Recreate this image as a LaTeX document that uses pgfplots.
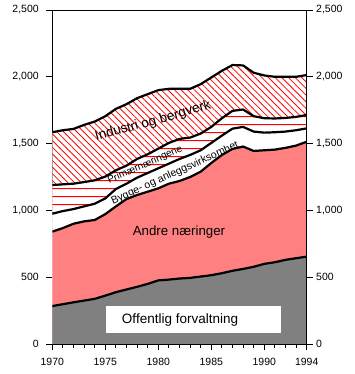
\documentclass[border=0pt]{standalone}
\usepackage{fontspec}
\setmainfont{Liberation Sans}
\usepackage{pgfplots}
\usepackage{pgfplotstable}
\pgfplotsset{compat=1.18}
\usetikzlibrary{patterns,patterns.meta}
\definecolor{andre}{RGB}{255,128,128}
\definecolor{offg}{RGB}{128,128,128}
\pgfdeclarepatternformonly{hstripes}{\pgfpointorigin}{\pgfqpoint{10pt}{7.6pt}}{\pgfqpoint{10pt}{7.6pt}}{%
  \pgfpathrectangle{\pgfqpoint{-1pt}{3pt}}{\pgfqpoint{12pt}{1pt}}\pgfusepath{fill}}
\pgfplotstableread{
year off andre bygge prim ind
1970 284 841 975 1190 1585
1971 298 868 995 1195 1600
1972 312 900 1010 1200 1610
1973 325 918 1030 1212 1640
1974 338 928 1050 1225 1665
1975 362 972 1090 1253 1705
1976 388 1030 1160 1300 1760
1977 408 1085 1200 1335 1795
1978 428 1115 1245 1385 1840
1979 450 1140 1280 1420 1870
1980 476 1165 1315 1462 1900
1981 482 1200 1350 1505 1910
1982 490 1220 1385 1535 1910
1983 495 1250 1415 1545 1910
1984 505 1290 1450 1575 1945
1985 515 1355 1505 1625 1995
1986 530 1415 1560 1690 2045
1987 548 1460 1612 1745 2088
1988 562 1478 1625 1755 2085
1989 578 1445 1590 1705 2030
1990 600 1450 1582 1690 2010
1991 612 1455 1585 1688 2000
1992 630 1468 1590 1692 2000
1993 642 1485 1600 1700 2000
1994 654 1514 1614 1714 2013
}\data
\begin{document}
\begin{tikzpicture}
\pgfplotsset{
  common/.style={
    width=254.4pt, height=334pt, scale only axis,
    at={(0,0)}, anchor=south west,
    xmin=1970, xmax=1994, ymin=0, ymax=2500,
    ytick={0,500,1000,1500,2000,2500},
    tick align=outside,
    major tick length=6pt, minor tick length=3.5pt,
    every tick/.style={black, line width=0.8pt},
    axis line style={black, line width=0.8pt},
    /pgf/number format/assume math mode=true,
    ticklabel style={font=\fontsize{10.5}{12}\selectfont},
    y tick label style={/pgf/number format/1000 sep={,}},
  }
}
\begin{axis}[common,
    xtick={1970,1975,1980,1985,1990,1994},
    minor xtick={1970,...,1994},
    x tick label style={/pgf/number format/1000 sep={}, yshift=-5pt},
    y tick label style={xshift=-4pt},
    xtick pos=bottom, ytick pos=left,
  ]
  \addplot[draw=none, fill=white] table[x=year,y=ind]{\data} \closedcycle;
  \addplot[draw=none, pattern={Lines[angle=-45,distance=4.7pt,line width=0.8pt]}, pattern color=red] table[x=year,y=ind]{\data} \closedcycle;
  \addplot[draw=none, fill=white] table[x=year,y=prim]{\data} \closedcycle;
  \addplot[draw=none, pattern=hstripes, pattern color=red] table[x=year,y=prim]{\data} \closedcycle;
  \addplot[draw=none, fill=white] table[x=year,y=bygge]{\data} \closedcycle;
  \addplot[draw=none, fill=andre] table[x=year,y=andre]{\data} \closedcycle;
  \addplot[draw=none, fill=offg] table[x=year,y=off]{\data} \closedcycle;
  \addplot[black, line width=2.2pt, line join=round] table[x=year,y=ind]{\data};
  \addplot[black, line width=2.2pt, line join=round] table[x=year,y=prim]{\data};
  \addplot[black, line width=2.2pt, line join=round] table[x=year,y=bygge]{\data};
  \addplot[black, line width=2.2pt, line join=round] table[x=year,y=andre]{\data};
  \addplot[black, line width=2.2pt, line join=round] table[x=year,y=off]{\data};
  \fill[white] (axis cs:1975.1,82) rectangle (axis cs:1991.6,284);
  \node[font=\fontsize{13.5}{15}\selectfont] at (axis cs:1982.05,183) {Offentlig forvaltning};
  \node[font=\fontsize{13.3}{15}\selectfont] at (axis cs:1981.95,838) {Andre næringer};
  \node[rotate=15.5, font=\fontsize{13.5}{15}\selectfont, inner sep=0pt] at (axis cs:1979.5,1665) {Industri og bergverk};
  \node[rotate=24, font=\fontsize{10}{12}\selectfont, inner sep=0pt] at (axis cs:1978.75,1340) {Primærnæringene};
  \node[rotate=24.3, font=\fontsize{10.5}{12}\selectfont, inner sep=0pt] at (axis cs:1981.57,1278) {Bygge- og anleggsvirksomhet};
\end{axis}
\begin{axis}[common,
    axis x line=none, axis y line*=right,
    ytick pos=right,
  ]
\end{axis}
\pgfresetboundingbox
\path[use as bounding box] (-52.3pt,-30pt) rectangle (302.7pt,344pt);
\end{tikzpicture}
\end{document}
